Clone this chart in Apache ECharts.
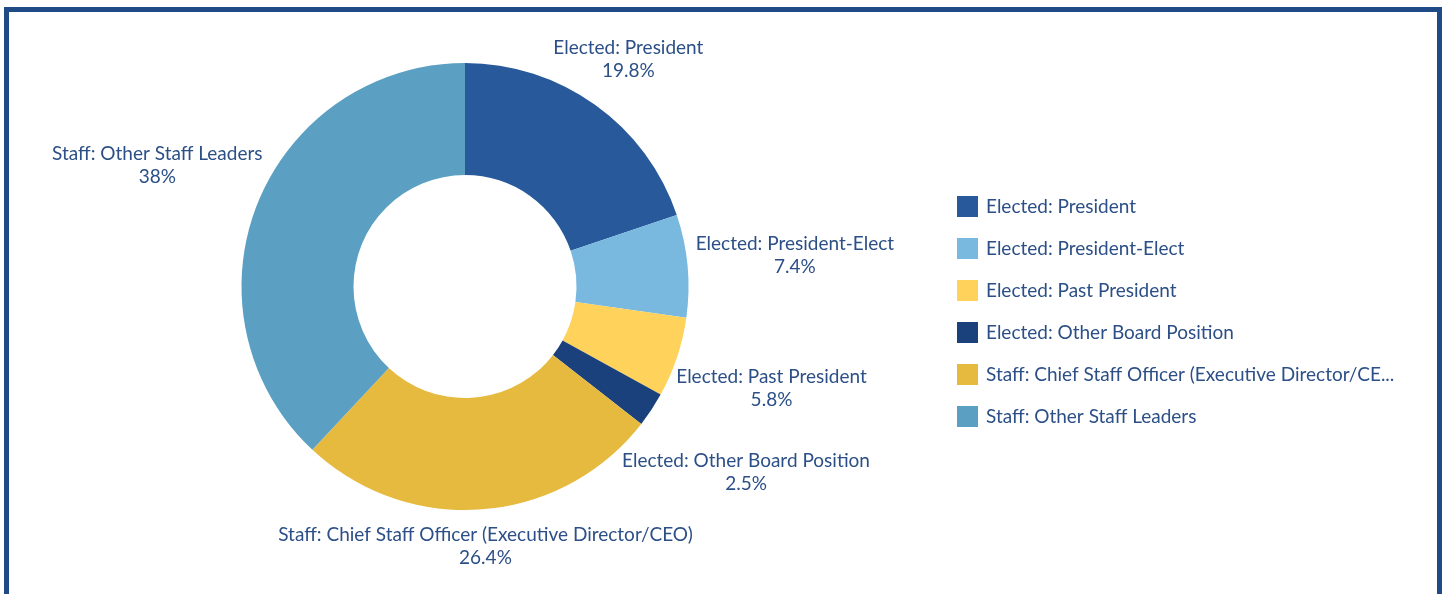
<!DOCTYPE html>
<html>
<head>
<meta charset="utf-8">
<script src="https://cdn.jsdelivr.net/npm/echarts@6/dist/echarts.min.js"></script>
<style>
  html, body { margin: 0; padding: 0; background: #ffffff; }
  #frame { position: absolute; left: 4px; top: 7px; width: 1438px; height: 620px; box-sizing: border-box; border: 5px solid #1f4a86; border-bottom: none; }
  #chart { position: absolute; left: 0; top: 0; width: 1445px; height: 594px; }
</style>
</head>
<body>
<div id="frame"></div>
<div id="chart"></div>
<script>
const categories = [
  'Elected: President',
  'Elected: President-Elect',
  'Elected: Past President',
  'Elected: Other Board Position',
  'Staff: Chief Staff Officer (Executive Director/CEO)',
  'Staff: Other Staff Leaders'
];
const values = [19.8, 7.4, 5.8, 2.5, 26.4, 38];
const colors = ['#285a9b', '#7ab9df', '#fed25b', '#1b417d', '#e6ba3e', '#5ba0c2'];

const CX = 465, CY = 286.5, R_IN = 111.5, R_OUT = 223.5, GAP = 9;
const total = values.reduce((a, b) => a + b, 0);
const midAngles = [];
let acc = 0;
values.forEach(v => { midAngles.push((acc + v / 2) / total * 2 * Math.PI); acc += v; });

const textColor = '#2b4f86';
const fontFamily = 'Lato, "Open Sans", sans-serif';

const chart = echarts.init(document.getElementById('chart'));
chart.setOption({
  animation: false,
  color: colors,
  legend: {
    orient: 'vertical',
    left: 957,
    top: 196,
    padding: 0,
    icon: 'rect',
    itemWidth: 21,
    itemHeight: 21,
    itemGap: 21,
    data: categories,
    formatter: function (name) { return name.length > 50 ? name.slice(0, 49) + '...' : name; },
    textStyle: { color: textColor, fontSize: 19, fontFamily: fontFamily, padding: [0, 0, 0, 3] }
  },
  series: [{
    type: 'pie',
    center: [CX, CY],
    radius: [R_IN, R_OUT],
    startAngle: 90,
    clockwise: true,
    avoidLabelOverlap: false,
    data: categories.map((c, i) => ({ name: c, value: values[i] })),
    label: {
      show: true,
      position: 'outside',
      color: textColor,
      fontSize: 19,
      lineHeight: 23,
      fontFamily: fontFamily,
      align: 'center',
      formatter: function (p) { return p.name + '\n' + p.value + '%'; }
    },
    labelLine: { show: false },
    emphasis: { disabled: true },
    labelLayout: function (params) {
      const a = midAngles[params.dataIndex];
      const ux = Math.sin(a), uy = -Math.cos(a);
      const hw = params.labelRect.width / 2, hh = params.labelRect.height / 2;
      const ext = Math.sqrt((ux * hw) * (ux * hw) + (uy * hh) * (uy * hh));
      const d = R_OUT + GAP + ext;
      return { x: CX + ux * d, y: CY + uy * d, align: 'center', verticalAlign: 'middle' };
    }
  }]
});
</script>
</body>
</html>
